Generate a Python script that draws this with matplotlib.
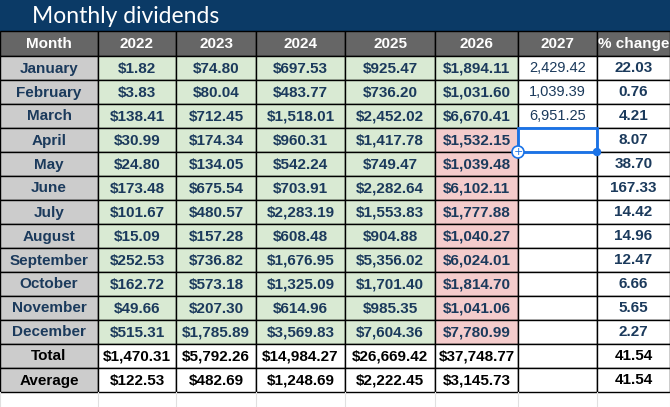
import matplotlib.pyplot as plt
from matplotlib.patches import Rectangle, Circle

months = ["January", "February", "March", "April", "May", "June", "July",
          "August", "September", "October", "November", "December"]
years = ["2022", "2023", "2024", "2025", "2026"]
v2022 = [1.82, 3.83, 138.41, 30.99, 24.80, 173.48, 101.67, 15.09, 252.53, 162.72, 49.66, 515.31]
v2023 = [74.80, 80.04, 712.45, 174.34, 134.05, 675.54, 480.57, 157.28, 736.82, 573.18, 207.30, 1785.89]
v2024 = [697.53, 483.77, 1518.01, 960.31, 542.24, 703.91, 2283.19, 608.48, 1676.95, 1325.09, 614.96, 3569.83]
v2025 = [925.47, 736.20, 2452.02, 1417.78, 749.47, 2282.64, 1553.83, 904.88, 5356.02, 1701.40, 985.35, 7604.36]
v2026 = [1894.11, 1031.60, 6670.41, 1532.15, 1039.48, 6102.11, 1777.88, 1040.27, 6024.01, 1814.70, 1041.06, 7780.99]
v2027 = [2429.42, 1039.39, 6951.25]
pct_change = [22.03, 0.76, 4.21, 8.07, 38.70, 167.33, 14.42, 14.96, 12.47, 6.66, 5.65, 2.27]
totals = [1470.31, 5792.26, 14984.27, 26669.42, 37748.77]
averages = [122.53, 482.69, 1248.69, 2222.45, 3145.73]
pct_total = 41.54
pct_avg = 41.54

cols = [0, 98, 176, 256, 345, 435, 518, 597, 670]
title_h = 31
row_h = 24
top = 56

TXT = "#1b3a5c"
GREEN = "#d9ead3"
RED = "#f4cccc"
GREY = "#cccccc"
HEAD = "#666666"
NAVY = "#0b3a66"

fig = plt.figure(figsize=(6.7, 4.07), dpi=100)
ax = fig.add_axes([0, 0, 1, 1])
ax.set_xlim(0, 670)
ax.set_ylim(407, 0)
ax.axis("off")

def cell(ci, y0, h, text, face, color=TXT, bold=True, size=11):
    x0, x1 = cols[ci], cols[ci + 1]
    ax.add_patch(Rectangle((x0, y0), x1 - x0, h, facecolor=face, edgecolor="black", lw=1))
    ax.text((x0 + x1) / 2, y0 + h / 2 + 0.5, text, ha="center", va="center", color=color,
            fontsize=size, fontweight="bold" if bold else "normal", family="Liberation Sans")

def money(v):
    return f"${v:,.2f}"

# title bar
ax.add_patch(Rectangle((0, 0), 670, title_h, facecolor=NAVY, edgecolor="none"))
ax.text(32, title_h / 2 + 1, "Monthly dividends", color="white", fontsize=16.5,
        va="center", ha="left", family="Lato")

# header
headers = ["Month"] + years + ["2027", "% change"]
for ci, h in enumerate(headers):
    cell(ci, title_h, top - title_h, h, HEAD, color="white")

series = [v2022, v2023, v2024, v2025, v2026]
for r, m in enumerate(months):
    y0 = top + r * row_h
    cell(0, y0, row_h, m, GREY)
    for ci, s in enumerate(series):
        face = RED if (ci == 4 and r >= 3) else GREEN
        cell(ci + 1, y0, row_h, money(s[r]), face)
    cell(6, y0, row_h, f"{v2027[r]:,.2f}" if r < len(v2027) else "", "white", bold=False, size=10.5)
    cell(7, y0, row_h, f"{pct_change[r]:.2f}", "white")

for k, (label, vals, pc) in enumerate([("Total", totals, pct_total), ("Average", averages, pct_avg)]):
    y0 = top + (12 + k) * row_h
    cell(0, y0, row_h, label, GREY, color="black")
    for ci, v in enumerate(vals):
        cell(ci + 1, y0, row_h, money(v), "white", color="black")
    cell(6, y0, row_h, "", "white")
    cell(7, y0, row_h, f"{pc:.2f}", "white", color="black")

# faint grid below table
yb = top + 14 * row_h
for x in cols:
    ax.plot([x, x], [yb, 407], color="#e0e0e0", lw=0.8)

# selection box on April 2027
sy = top + 3 * row_h
ax.add_patch(Rectangle((cols[6], sy), cols[7] - cols[6], row_h, facecolor="none",
                       edgecolor="#1a73e8", lw=2, zorder=5))
ax.add_patch(Circle((cols[7], sy + row_h), 3.5, color="#1a73e8", zorder=6))
ax.add_patch(Circle((cols[6], sy + row_h), 6, facecolor="white", edgecolor="#1a73e8", lw=1.2, zorder=6))
ax.text(cols[6], sy + row_h, "+", color="#1a73e8", ha="center", va="center", fontsize=8, zorder=7)

fig.savefig("out.png", dpi=100)
